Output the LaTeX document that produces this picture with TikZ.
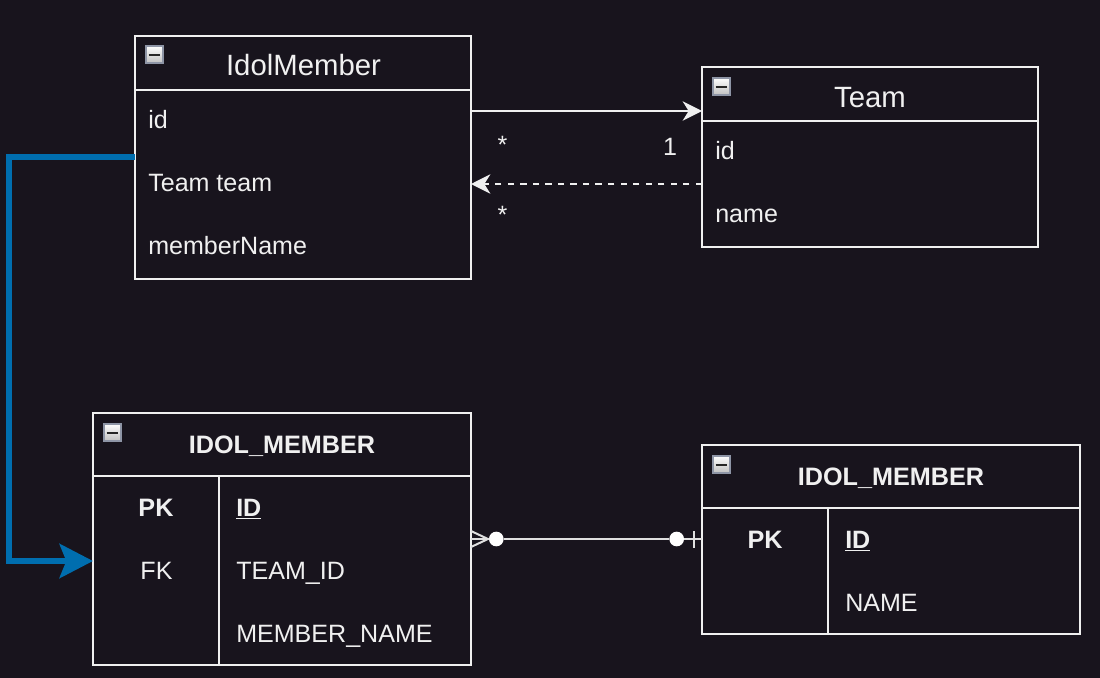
\documentclass[tikz,border=0pt]{standalone}
\usepackage{fontspec}
\setmainfont{Liberation Sans}
\usetikzlibrary{arrows.meta}
\definecolor{bgc}{HTML}{18141D}
\definecolor{inkc}{HTML}{F0F0F0}
\definecolor{bluec}{HTML}{006EAF}
\definecolor{iconb}{HTML}{8E95A6}
\tikzset{
  box/.style={draw=inkc,line width=1.5pt,inner sep=0pt,outer sep=0pt,anchor=north west},
  rule/.style={draw=inkc,line width=1.5pt},
  titletext/.style={text=inkc,font=\fontsize{22pt}{24pt}\selectfont,anchor=base,inner sep=0pt},
  rowtext/.style={text=inkc,font=\fontsize{18.8pt}{22pt}\selectfont,anchor=base west,inner sep=0pt},
  boldtext/.style={text=inkc,font=\fontsize{18.9pt}{22pt}\selectfont\bfseries,anchor=base,inner sep=0pt},
  keytext/.style={text=inkc,font=\fontsize{18.8pt}{22pt}\selectfont,anchor=base,inner sep=0pt},
  multtext/.style={text=inkc,font=\fontsize{18.8pt}{22pt}\selectfont,anchor=base,inner sep=0pt},
  iconbox/.style={draw=iconb,line width=1.5pt,top color=white,bottom color=black!25,inner sep=0pt,outer sep=0pt,minimum width=13.2pt,minimum height=13.2pt,anchor=center},
  assoc/.style={draw=inkc,line width=1.5pt,-{Stealth[length=14.5pt,width=14.5pt,inset=4.5pt,fill=inkc]}},
  dashassoc/.style={assoc,dash pattern=on 4.7pt off 4.7pt},
  bluelink/.style={draw=bluec,line width=4.7pt,-{Stealth[length=25pt,width=25.5pt,inset=5pt,fill=bluec]},rounded corners=0pt},
  erline/.style={draw=black!12,line width=1.5pt},
  erdot/.style={circle,fill=white,draw=none,minimum size=11pt,inner sep=0pt,outer sep=0pt},
}
\newcommand{\minusicon}[3]{%
  \node[iconbox] (#1) at (#2,#3) {};
  \draw[line width=1.5pt,black!85] ([xshift=-4.4pt]#1.center) -- ([xshift=4.4pt]#1.center);
}
\begin{document}
\begin{tikzpicture}[x=0.75pt,y=-0.75pt]
\useasboundingbox (0,0) rectangle (1100,678);
\fill[bgc] (-6,-6) rectangle (1106,684);

% Class IdolMember
\node[box,minimum width=252pt,minimum height=182.25pt] (IdolMember) at (135,36) {};
\coordinate (imDivL) at (135,90); \coordinate (imDivR) at (471,90);
\draw[rule] (imDivL) -- (imDivR);
\minusicon{imIcon}{154.5}{54.5}
\node[titletext] (imTitle) at (303.5,75) {IdolMember};
\node[rowtext] (imId) at (148,128) {id};
\node[rowtext] (imTeam) at (148,191) {Team team};
\node[rowtext] (imName) at (148,254) {memberName};

% Class Team
\node[box,minimum width=252pt,minimum height=135pt] (Team) at (702,67) {};
\coordinate (tDivL) at (702,121); \coordinate (tDivR) at (1038,121);
\draw[rule] (tDivL) -- (tDivR);
\minusicon{tIcon}{721.5}{86.5}
\node[titletext] (tTitle) at (870,107) {Team};
\node[rowtext] (tId) at (715,159) {id};
\node[rowtext] (tName) at (715,222) {name};

% Table IDOL_MEMBER (left)
\node[box,minimum width=283.5pt,minimum height=189pt] (TableA) at (93,413) {};
\coordinate (aDivL) at (93,476); \coordinate (aDivR) at (471,476);
\coordinate (aColT) at (219,476); \coordinate (aColB) at (219,665);
\draw[rule] (aDivL) -- (aDivR);
\draw[rule] (aColT) -- (aColB);
\minusicon{aIcon}{112.5}{432.5}
\node[boldtext] (aTitle) at (282,453) {IDOL\_MEMBER};
\node[boldtext] (aPK) at (156,516) {PK};
\node[keytext] (aFK) at (156.5,579) {FK};
\node[rowtext,font=\fontsize{18.8pt}{22pt}\selectfont\bfseries] (aID) at (236,516) {\underline{ID}};
\node[rowtext] (aTeamId) at (236,579) {TEAM\_ID};
\node[rowtext] (aMember) at (236,642) {MEMBER\_NAME};

% Table IDOL_MEMBER (right)
\node[box,minimum width=283.5pt,minimum height=141.75pt] (TableB) at (702,445) {};
\coordinate (bDivL) at (702,508); \coordinate (bDivR) at (1080,508);
\coordinate (bColT) at (828,508); \coordinate (bColB) at (828,634);
\draw[rule] (bDivL) -- (bDivR);
\draw[rule] (bColT) -- (bColB);
\minusicon{bIcon}{721.5}{464.5}
\node[boldtext] (bTitle) at (891,485) {IDOL\_MEMBER};
\node[boldtext] (bPK) at (765,548) {PK};
\node[rowtext,font=\fontsize{18.8pt}{22pt}\selectfont\bfseries] (bID) at (845,548) {\underline{ID}};
\node[rowtext] (bName) at (845,611) {NAME};

% Associations between classes
\coordinate (assocY) at (0,111);
\coordinate (dashY) at (0,184);
\draw[assoc] (IdolMember.east |- assocY) -- (Team.west |- assocY);
\draw[dashassoc] (Team.west |- dashY) -- (IdolMember.east |- dashY);
\node[multtext] (mStarA) at (502.5,153) {*};
\node[multtext] (mOne) at (670,155.5) {1};
\node[multtext] (mStarB) at (502.5,223) {*};

% Blue mapping link
\coordinate (blueOutY) at (0,157);
\coordinate (blueInY) at (0,561);
\coordinate (blueX) at (9,0);
\draw[bluelink] (IdolMember.west |- blueOutY) -- (blueX |- blueOutY) -- (blueX |- blueInY) -- (TableA.west |- blueInY);

% ER relationship
\coordinate (erY) at (0,539);
\node[erdot] (dotA) at (496.3,539) {};
\node[erdot] (dotB) at (676.7,539) {};
\coordinate (crowTip) at (488,539);
\coordinate (crowUp) at (471,531);
\coordinate (crowDn) at (471,547);
\coordinate (barUp) at (693.7,531);
\coordinate (barDn) at (693.7,547.5);
\draw[erline] (TableA.east |- erY) -- (dotA) -- (dotB) -- (TableB.west |- erY);
\draw[erline] (crowUp) -- (crowTip) -- (crowDn);
\draw[erline] (barUp) -- (barDn);
\end{tikzpicture}
\end{document}
